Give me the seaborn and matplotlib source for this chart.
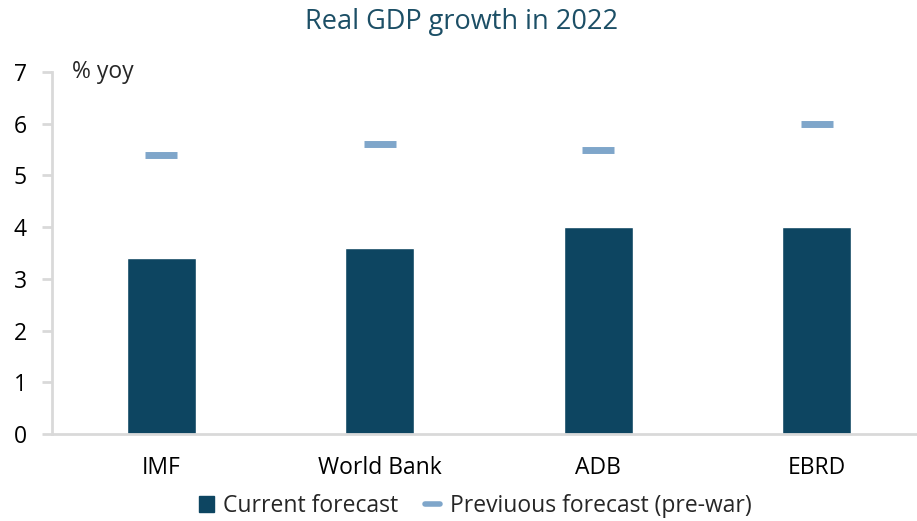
import matplotlib
matplotlib.use("Agg")
import matplotlib.pyplot as plt
from matplotlib.lines import Line2D
from matplotlib.patches import Patch
import seaborn as sns
import pandas as pd

categories = ["IMF", "World Bank", "ADB", "EBRD"]
current = [3.4, 3.6, 4.0, 4.0]
previous = [5.4, 5.6, 5.5, 6.0]

df = pd.DataFrame({"cat": categories, "current": current, "previous": previous})

sns.set_theme(style="white")
plt.rcParams["font.family"] = ["Open Sans", "DejaVu Sans"]

bar_color = "#0D4561"
dash_color = "#7FA6CA"
axis_gray = "#D9D9D9"

fig = plt.figure(figsize=(9.17, 5.21), dpi=100)
ax = fig.add_axes([52 / 917, 1 - 434 / 521, 1 - 52 / 917, (434 - 72) / 521])

sns.barplot(data=df, x="cat", y="current", color=bar_color, width=0.316,
            saturation=1, ax=ax)
sns.scatterplot(data=df, x="cat", y="previous", marker="_", s=23 ** 2,
                color=dash_color, linewidth=5, ax=ax, zorder=3)

ax.set_xlim(-0.5, 3.46)
ax.set_ylim(0, 7)
ax.set_yticks(range(0, 8))
ax.set_xlabel("")
ax.set_ylabel("")
for s in ["top", "right"]:
    ax.spines[s].set_visible(False)
for s in ["left", "bottom"]:
    ax.spines[s].set_color(axis_gray)
    ax.spines[s].set_linewidth(2)
fs = 16.5
ax.tick_params(axis="y", which="major", left=True, length=7, width=2,
               color=axis_gray, labelsize=fs, labelcolor="#000000", pad=11)
ax.tick_params(axis="x", bottom=False, labelsize=fs, labelcolor="#000000", pad=10)

ax.text(20 / 865, 1.0, "% yoy", transform=ax.transAxes, fontsize=fs,
        va="center", ha="left")

fig.suptitle("Real GDP growth in 2022", x=462 / 917, y=1 - 22 / 521, va="center",
             fontsize=19.5, color="#1C4F66")

handles = [
    Patch(facecolor=bar_color, edgecolor=bar_color, label="Current forecast"),
    Line2D([0], [0], color=dash_color, lw=4, label="Previuous forecast (pre-war)"),
]
fig.legend(handles=handles, loc="center", bbox_to_anchor=(475 / 917, 1 - 506 / 521),
           ncol=2, frameon=False, fontsize=fs, handlelength=0.65, handleheight=0.65,
           handletextpad=0.4, columnspacing=1.2)

fig.savefig("out.png", dpi=100)
